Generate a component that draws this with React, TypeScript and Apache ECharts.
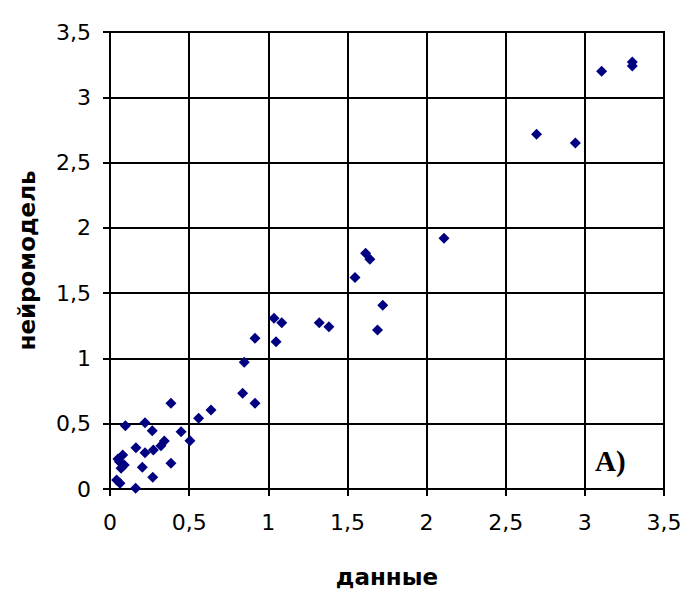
import React, { useEffect, useRef } from "react";
import * as echarts from "echarts";

const xData = [3.106, 3.3, 3.3, 2.695, 2.94, 2.11, 1.615, 1.642, 1.548, 1.723, 1.69, 1.322, 1.383, 1.036, 1.085, 1.049, 0.916, 0.848, 0.838, 0.916, 0.385, 0.638, 0.56, 0.097, 0.221, 0.267, 0.449, 0.505, 0.343, 0.322, 0.274, 0.221, 0.164, 0.385, 0.204, 0.27, 0.162, 0.08, 0.06, 0.09, 0.07, 0.05, 0.042, 0.063];
const yData = [3.2, 3.27, 3.24, 2.716, 2.65, 1.92, 1.805, 1.76, 1.62, 1.407, 1.217, 1.273, 1.243, 1.307, 1.273, 1.128, 1.154, 0.97, 0.733, 0.656, 0.656, 0.605, 0.541, 0.485, 0.508, 0.446, 0.439, 0.37, 0.368, 0.332, 0.299, 0.278, 0.316, 0.197, 0.166, 0.09, 0.005, 0.26, 0.209, 0.184, 0.158, 0.23, 0.069, 0.044];
const xTitle = "данные";
const yTitle = "нейромодель";
const panelLabel = "A)";

const fmt = (v: number) => String(v).replace(".", ",");

export default function App() {
  const ref = useRef<HTMLDivElement>(null);
  useEffect(() => {
    const chart = echarts.init(ref.current!, null, { renderer: "svg" });
    const pts = xData.map((x, i) => [x, yData[i]]);
    const axisCommon = {
      min: 0,
      max: 3.5,
      interval: 0.5,
      axisLine: { show: true, lineStyle: { color: "#000", width: 2 } },
      axisTick: { show: true, length: 7, lineStyle: { color: "#000", width: 2 } },
      splitLine: { show: true, lineStyle: { color: "#000", width: 2 } },
      axisLabel: {
        color: "#000",
        fontFamily: "DejaVu Sans",
        fontSize: 22,
        formatter: fmt,
      },
      nameLocation: "middle" as const,
      nameTextStyle: {
        color: "#000",
        fontFamily: "DejaVu Sans",
        fontSize: 23,
        fontWeight: "bold" as const,
      },
    };
    chart.setOption({
      animation: false,
      backgroundColor: "#fff",
      grid: { left: 110, right: 25, top: 32, bottom: 108, show: true, borderColor: "#000", borderWidth: 2 },
      xAxis: {
        ...axisCommon,
        type: "value",
        name: xTitle,
        nameGap: 76,
        axisLabel: { ...axisCommon.axisLabel, margin: 22 },
      },
      yAxis: {
        ...axisCommon,
        type: "value",
        name: yTitle,
        nameGap: 72,
        axisLabel: { ...axisCommon.axisLabel, margin: 19 },
      },
      graphic: [
        {
          type: "text",
          left: 595,
          top: 446,
          style: { text: panelLabel, fill: "#000", font: "bold 29px 'Liberation Serif'" },
        },
      ],
      series: [
        {
          type: "scatter",
          data: pts,
          symbol: "diamond",
          symbolSize: 11,
          itemStyle: { color: "#000080", opacity: 1 },
        },
      ],
    });
    return () => chart.dispose();
  }, []);
  return <div ref={ref} style={{ width: 689, height: 597, marginLeft: -8, marginTop: -8 }} />;
}
